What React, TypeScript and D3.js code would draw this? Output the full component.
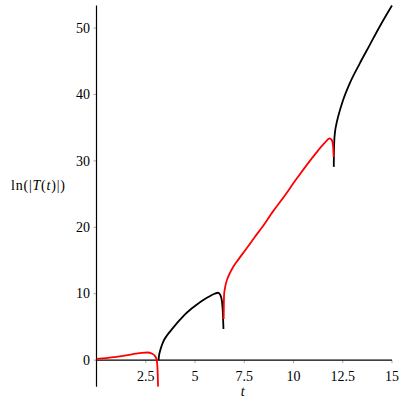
import React from "react";
import * as d3 from "d3";

const seg1T = [0, 0.5, 1, 1.5, 2, 2.3, 2.6, 2.8, 2.95, 3.05, 3.1, 3.125];
const seg1V = [0.2, 0.3, 0.5, 0.72, 0.97, 1.1, 1.15, 1.0, 0.7, 0.1, -1.5, -4];

const seg2T = [3.15, 3.17, 3.22, 3.3, 3.39, 3.55, 3.73, 3.98, 4.23, 4.48, 4.74, 5.0, 5.25, 5.67, 6.0, 6.17, 6.29, 6.37, 6.42, 6.445];
const seg2V = [0, 0.6, 1.3, 2.1, 2.8, 3.6, 4.3, 5.2, 6.05, 6.85, 7.55, 8.15, 8.7, 9.5, 10.0, 10.15, 9.8, 8.8, 6.8, 4.7];

const seg3T = [6.455, 6.465, 6.48, 6.52, 6.55, 6.65, 6.77, 6.95, 7.19, 7.45, 7.69, 8.0, 8.37, 8.96, 9.39, 10.23, 11.07, 11.58, 11.83, 11.95, 12.01, 12.04];
const seg3V = [6.2, 8.5, 10.0, 10.8, 11.3, 12.3, 13.1, 14.1, 15.1, 16.15, 17.1, 18.4, 19.85, 22.4, 24.1, 27.6, 30.9, 32.7, 33.4, 33.1, 32.2, 30.6];

const seg4T = [12.045, 12.05, 12.07, 12.11, 12.18, 12.26, 12.51, 12.85, 13.36, 13.86, 14.37, 15];
const seg4V = [29.1, 31.0, 33.0, 34.4, 35.6, 36.6, 39.1, 41.65, 44.66, 47.4, 50.2, 53.4];

const xTicks = [2.5, 5, 7.5, 10, 12.5, 15];
const xTickLabels = ["2.5", "5", "7.5", "10", "12.5", "15"];
const yTicks = [0, 10, 20, 30, 40, 50];
const yTickLabels = ["0", "10", "20", "30", "40", "50"];

const segments = [
  { t: seg2T, v: seg2V, color: "#000000" },
  { t: seg4T, v: seg4V, color: "#000000" },
  { t: seg1T, v: seg1V, color: "#ff0000" },
  { t: seg3T, v: seg3V, color: "#ff0000" },
];

export default function App() {
  const x = d3.scaleLinear().domain([0, 15]).range([96.5, 392]);
  const y = d3.scaleLinear().domain([-4, 53.4]).range([386.7, 5.5]);
  const line = d3
    .line<[number, number]>()
    .x((d) => x(d[0]))
    .y((d) => y(d[1]))
    .curve(d3.curveMonotoneX);
  const font = "'Liberation Serif', 'Times New Roman', serif";
  return (
    <svg
      width={405}
      height={405}
      style={{ position: "absolute", left: 0, top: 0, background: "#fff", fontFamily: font }}
    >
      <defs>
        <clipPath id="plotClip">
          <rect x={x(0)} y={y(53.4) - 2} width={x(15) - x(0) + 2} height={y(-4) - y(53.4) + 2} />
        </clipPath>
      </defs>
      {xTicks.map((t) => (
        <line key={"xt" + t} x1={x(t)} x2={x(t)} y1={y(0)} y2={y(0) + 3} stroke="#aaa" strokeWidth={1} />
      ))}
      {yTicks.map((t) => (
        <line key={"yt" + t} x1={x(0) - 3} x2={x(0)} y1={y(t)} y2={y(t)} stroke="#aaa" strokeWidth={1} />
      ))}
      <line x1={x(0)} x2={x(15)} y1={y(0)} y2={y(0)} stroke="#000" strokeWidth={1.2} />
      <line x1={x(0)} x2={x(0)} y1={y(53.4)} y2={y(-4)} stroke="#000" strokeWidth={1.2} />
      <g clipPath="url(#plotClip)">
        {segments.map((s, i) => (
          <path
            key={i}
            d={line(s.t.map((t, j) => [t, s.v[j]] as [number, number])) || ""}
            fill="none"
            stroke={s.color}
            strokeWidth={1.8}
            strokeLinejoin="round"
          />
        ))}
      </g>
      {xTicks.map((t, i) => (
        <text key={"xl" + t} x={x(t)} y={381} textAnchor="middle" fontSize={14} fill="#000" style={{ fontFamily: font }}>
          {xTickLabels[i]}
        </text>
      ))}
      {yTicks.map((t, i) => (
        <text key={"yl" + t} x={90} y={y(t) + 4.7} textAnchor="end" fontSize={14} fill="#000" style={{ fontFamily: font }}>
          {yTickLabels[i]}
        </text>
      ))}
      <text x={242.7} y={396} textAnchor="middle" fontSize={14} fontStyle="italic" style={{ fontFamily: font }}>
        t
      </text>
      <text x={11} y={190} fontSize={14} textLength={54} lengthAdjust="spacing" style={{ fontFamily: font }}>
        ln(|<tspan fontStyle="italic">T</tspan>(<tspan fontStyle="italic">t</tspan>)|)
      </text>
    </svg>
  );
}
